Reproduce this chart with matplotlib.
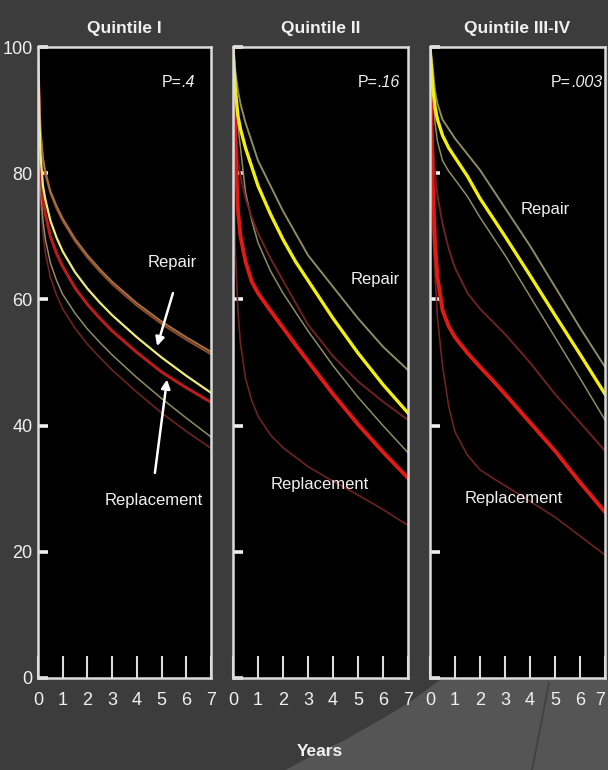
import matplotlib
matplotlib.use("Agg")
import matplotlib.pyplot as plt
from matplotlib.patches import Polygon
from matplotlib.lines import Line2D

# ------------------------------------------------------------
# Survival (%) after repair vs replacement, by quintile
# ------------------------------------------------------------
YEARS = [0, 0.05, 0.1, 0.2, 0.3, 0.5, 0.75, 1, 1.5, 2, 2.5, 3, 4, 5, 6, 7]

# Quintile I
q1_repair = [100, 90, 83, 78, 75.8, 72.5, 69.8, 67.6, 64.3, 61.7, 59.5, 57.5, 54, 50.8, 47.9, 45.2]
q1_repair_hi = [100, 93, 87, 82.5, 80.2, 77.2, 74.8, 72.8, 69.6, 67, 64.8, 62.8, 59.4, 56.5, 54, 51.7]
q1_repair_lo = [100, 86, 78, 72.5, 69.5, 65.8, 63, 60.8, 57.8, 55.3, 53.2, 51.2, 47.6, 44.3, 41.2, 38.2]
q1_replace = [100, 88, 81, 76, 73.5, 70, 67.3, 65.2, 61.8, 59.2, 57, 55, 51.6, 48.5, 46, 43.7]
q1_replace_hi = [100, 92.5, 86.5, 82.1, 79.8, 76.8, 74.4, 72.4, 69.2, 66.6, 64.4, 62.4, 59, 56.1, 53.6, 51.3]
q1_replace_lo = [100, 84, 76, 70.5, 67.3, 63.5, 60.7, 58.5, 55.4, 52.9, 50.8, 48.8, 45.3, 42, 39.1, 36.4]

# Quintile II
q2_repair = [100, 96, 93, 89, 87, 84, 81, 78, 73.5, 69.5, 66, 63, 57, 51.5, 46.5, 42]
q2_repair_hi = [100, 98, 96, 93, 91, 88, 85, 82, 78, 74, 70.5, 67, 62, 57, 52.5, 48.8]
q2_repair_lo = [100, 96, 93, 87.5, 84, 77, 72.5, 69, 64.5, 61, 58, 55, 49.5, 44.5, 40, 35.7]
q2_replace = [100, 92, 84, 74, 70, 66, 62.8, 61, 58.2, 55.5, 52.8, 50.2, 45, 40.2, 35.8, 31.7]
q2_replace_hi = [100, 94, 88, 82, 79.5, 76, 73, 70.5, 66.5, 63, 59.5, 56, 51, 47, 43.8, 40.9]
q2_replace_lo = [100, 78, 67, 58, 53, 47.5, 44, 41.5, 38.5, 36.5, 35, 33.5, 31.2, 29, 26.7, 24.2]

# Quintile III-IV
q3_repair = [100, 97, 94, 90.5, 88.5, 86, 84, 82.5, 79.5, 76, 73, 70, 63.8, 57.5, 51.3, 45]
q3_repair_hi = [100, 98.5, 97, 93, 91, 88.5, 87, 85.5, 83, 80.5, 77.5, 74.5, 68.5, 62, 55.5, 49.3]
q3_repair_lo = [100, 96, 93, 88, 85, 82, 80.3, 79, 76.3, 73, 70, 67, 60.5, 54, 47.5, 40.9]
q3_replace = [100, 89, 79.5, 69, 63.5, 58.3, 55.7, 54, 51.5, 49.3, 47.2, 45, 40.5, 36, 31, 26.3]
q3_replace_hi = [100, 92, 86, 80, 76.5, 72, 68, 65, 61, 58.5, 56.5, 54.5, 50, 45, 40.5, 36]
q3_replace_lo = [100, 80, 72, 64, 57, 49.5, 43, 39, 35.3, 33, 31.7, 30.5, 28, 25.5, 22.5, 19.5]

TITLES = ["Quintile I", "Quintile II", "Quintile III-IV"]
P_VALUES = [".4", ".16", ".003"]
X_TICKS = [0, 1, 2, 3, 4, 5, 6, 7]
Y_TICKS = [0, 20, 40, 60, 80, 100]

# ------------------------------------------------------------
# Style
# ------------------------------------------------------------
plt.rcParams["font.family"] = ["Liberation Sans", "DejaVu Sans"]

BG = "#3c3c3c"
BG_LIGHT = "#555555"
FRAME = "#dcdcdc"
TXT = "#f0f0f0"

YELLOW = "#f2ee10"
RED = "#e01a14"
YELLOW_CI = "#8e8c62"
RED_CI = "#6e2222"

W, H = 608, 770
fig = plt.figure(figsize=(W / 100, H / 100), dpi=100, facecolor=BG)


def px(x, y):
    # pixel position (from top-left) -> figure fraction
    return x / W, 1 - y / H


# lighter sweep in the lower right of the slide background
sweep = [(285, 770), (310, 757), (345, 740), (380, 720), (410, 702),
         (440, 680), (608, 680), (608, 770)]
fig.patches.append(Polygon([px(*p) for p in sweep], closed=True,
                           transform=fig.transFigure, facecolor=BG_LIGHT,
                           edgecolor="none", zorder=-2))
fig.lines.append(Line2D([px(532, 770)[0], px(549, 683)[0]],
                        [px(532, 770)[1], px(549, 683)[1]],
                        transform=fig.transFigure, color="#404040", lw=1.2, zorder=-1))

panels = [
    dict(box=(38, 211), data=(q1_repair, q1_repair_hi, q1_repair_lo,
                              q1_replace, q1_replace_hi, q1_replace_lo),
         repair_lw=1.6, replace_lw=2.2, repair_c="#ecec7a", replace_c="#b81c1c",
         hi_c=("#a4703e", "#8e4a2c"), p_right=195),
    dict(box=(233, 408), data=(q2_repair, q2_repair_hi, q2_repair_lo,
                               q2_replace, q2_replace_hi, q2_replace_lo),
         repair_lw=2.4, replace_lw=2.8, repair_c=YELLOW, replace_c=RED,
         hi_c=(YELLOW_CI, RED_CI), p_right=400),
    dict(box=(430, 605), data=(q3_repair, q3_repair_hi, q3_repair_lo,
                               q3_replace, q3_replace_hi, q3_replace_lo),
         repair_lw=2.4, replace_lw=2.8, repair_c=YELLOW, replace_c=RED,
         hi_c=(YELLOW_CI, RED_CI), p_right=602),
]

TOP, BOTTOM = 47, 678
axes = []
for i, pnl in enumerate(panels):
    x0, x1 = pnl["box"]
    left, bottom = px(x0, BOTTOM)
    right, top = px(x1, TOP)
    ax = fig.add_axes([left, bottom, right - left, top - bottom])
    ax.set_facecolor("black")
    axes.append(ax)

    rep, rep_hi, rep_lo, rpl, rpl_hi, rpl_lo = pnl["data"]

    # confidence limits (thin), then the estimates on top
    ax.plot(YEARS, rpl_lo, color=RED_CI, lw=1.2, zorder=2)
    ax.plot(YEARS, rep_lo, color=YELLOW_CI, lw=1.1, zorder=2)
    ax.plot(YEARS, rpl_hi, color=pnl["hi_c"][1], lw=1.4, zorder=2)
    ax.plot(YEARS, rep_hi, color=pnl["hi_c"][0], lw=1.4, zorder=2)
    ax.plot(YEARS, rpl, color=pnl["replace_c"], lw=pnl["replace_lw"], zorder=3)
    ax.plot(YEARS, rep, color=pnl["repair_c"], lw=pnl["repair_lw"], zorder=4)

    ax.set_xlim(0, 7)
    ax.set_ylim(0, 100)
    ax.set_xticks(X_TICKS)
    ax.set_xticklabels([str(t) for t in X_TICKS])
    ax.set_yticks(Y_TICKS)
    if i == 0:
        ax.set_yticklabels([str(v) for v in Y_TICKS])
    else:
        ax.set_yticklabels([])

    ax.tick_params(axis="x", direction="in", length=16, width=1.5,
                   color=FRAME, labelcolor=TXT, labelsize=13, pad=10)
    ax.tick_params(axis="y", direction="in", length=7, width=2.6,
                   color="#f0f0f0", labelcolor=TXT, labelsize=13, pad=4)
    for sp in ax.spines.values():
        sp.set_color(FRAME)
        sp.set_linewidth(1.8)
        sp.set_zorder(5)

    ax.set_title(TITLES[i], color=TXT, fontsize=12.5, fontweight="bold", pad=10)

    # p-value: italic number, right aligned near the top, "P=" in front of it
    pr = (pnl["p_right"] - x0) / (x1 - x0)
    num = ax.text(pr, 0.944, P_VALUES[i], transform=ax.transAxes, ha="right",
                  va="center", color=TXT, fontsize=11.5, style="italic")
    ax.annotate("P=", xy=(0, 0.5), xycoords=num, ha="right", va="center",
                color=TXT, fontsize=11.5)

# keep the last year label inside the slide
axes[2].get_xticklabels()[-1].set_horizontalalignment("right")

# curve labels
ax1, ax2, ax3 = axes
lab = dict(color=TXT, fontsize=12, ha="center", va="center", zorder=6)
ax1.text(5.42, 65.8, "Repair", **lab)
ax1.text(4.69, 28.2, "Replacement", **lab)
ax2.text(5.68, 63.1, "Repair", **lab)
ax2.text(3.48, 30.6, "Replacement", **lab)
ax3.text(4.6, 74.2, "Repair", **lab)
ax3.text(3.36, 28.5, "Replacement", **lab)

arrow = dict(arrowstyle="-|>", color="white", lw=1.8, mutation_scale=13,
             shrinkA=0, shrinkB=0)
ax1.annotate("", xy=(4.82, 52.6), xytext=(5.46, 61.0), arrowprops=arrow, zorder=6)
ax1.annotate("", xy=(5.22, 47.3), xytext=(4.73, 32.5), arrowprops=arrow, zorder=6)

fig.text(320 / W, 1 - 752 / H, "Years", color=TXT, fontsize=12.5,
         fontweight="bold", ha="center", va="center")

fig.savefig("out.png", dpi=100, facecolor=BG)
